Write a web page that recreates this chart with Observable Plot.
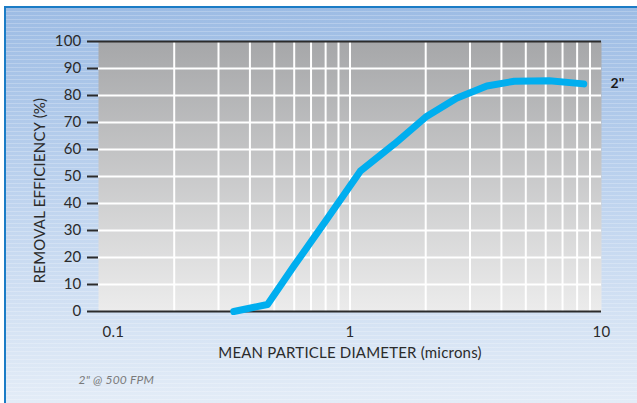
<!DOCTYPE html>
<html><head><meta charset="utf-8">
<script src="https://cdn.jsdelivr.net/npm/d3@7"></script>
<script src="https://cdn.jsdelivr.net/npm/@observablehq/plot@0.6"></script>
<style>
html,body{margin:0;padding:0;background:#fff;}
#wrap{position:relative;width:637px;height:403px;overflow:hidden;}
#bg{position:absolute;left:4px;top:6px;right:0;bottom:0;border-top:2px solid #1b7cc6;border-left:2px solid #1b7cc6;
background: repeating-linear-gradient(to bottom, rgba(255,255,255,0) 0px, rgba(255,255,255,0) 3px, rgba(255,255,255,0.22) 3px, rgba(255,255,255,0.22) 4px), linear-gradient(to bottom,#9dbce4 0%,#bcd2ee 45%,#e3ecf7 100%);}
#chart{position:absolute;left:0;top:0;}
#chart text{letter-spacing:0.2px;}
</style></head>
<body>
<div id="wrap"><div id="bg"></div><div id="chart"></div></div>
<script>
// Data
const diameter   = [0.345, 0.47, 0.6, 0.8, 1.1, 1.5, 2.0, 2.65, 3.5, 4.5, 6.2, 8.5];
const efficiency = [0,     2.6,  17,  33.5, 52, 62,  72,  79,   83.5, 85.3, 85.5, 84.3];
const seriesName = '2"';
const xTicks = [0.1, 1, 10];
const yTicks = [0, 10, 20, 30, 40, 50, 60, 70, 80, 90, 100];
const gridX = [0.2, 0.3, 0.4, 0.5, 0.6, 0.7, 0.8, 0.9, 1, 2, 3, 4, 5, 6, 7, 8, 9];
const gridY = [10, 20, 30, 40, 50, 60, 70, 80, 90];
const xLabel = "MEAN PARTICLE DIAMETER (microns)";
const yLabel = "REMOVAL EFFICIENCY (%)";
const footnote = '2" @ 500 FPM';

const data = diameter.map((d, i) => ({d, e: efficiency[i]}));
const last = data[data.length - 1];

const chart = Plot.plot({
  width: 637, height: 403,
  marginLeft: 98, marginRight: 36, marginTop: 41, marginBottom: 92,
  style: {background: "transparent", fontFamily: "Lato, sans-serif", color: "#2b2b2b", overflow: "visible"},
  x: {type: "log", domain: [0.1, 10], axis: null},
  y: {domain: [0, 100], axis: null},
  marks: [
    Plot.frame({fill: "url(#plotGrad)", stroke: null}),
    Plot.ruleX(gridX, {stroke: "white", strokeWidth: 2}),
    Plot.ruleY(gridY, {stroke: "white", strokeWidth: 2}),
    Plot.axisY({ticks: yTicks, tickSize: 11, tickPadding: 6, fontSize: 15, strokeWidth: 2, label: null, tickFormat: d => String(d)}),
    Plot.ruleY([0, 100], {stroke: "#2b2b2b", strokeWidth: 2}),
    Plot.line(data, {x: "d", y: "e", stroke: "#00aeef", strokeWidth: 7, strokeLinecap: "round", strokeLinejoin: "round"}),
    Plot.text(xTicks.filter(t => t > 0.1), {x: d => d, text: d => String(d), frameAnchor: "bottom", dy: 25, fontSize: 15}),
    Plot.text(xTicks.filter(t => t <= 0.1), {x: d => d, text: d => String(d), frameAnchor: "bottom", dy: 25, dx: 4, textAnchor: "start", fontSize: 15}),
    Plot.text([xLabel], {frameAnchor: "bottom", dy: 46, fontSize: 15}),
    Plot.text([yLabel], {frameAnchor: "left", dx: -58, dy: 14, rotate: -90, textAnchor: "middle", fontSize: 15}),
    Plot.text([seriesName], {y: () => last.e, frameAnchor: "right", dx: 9, textAnchor: "start", fontWeight: "bold", fontSize: 14, fill: "#1a1a1a"}),
    Plot.text([footnote], {frameAnchor: "bottom-left", dx: -20, dy: 72, textAnchor: "start", fontSize: 12, fontStyle: "italic", fill: "#7a7a7a"})
  ]
});

d3.select(chart).insert("defs", ":first-child").html(
  '<linearGradient id="plotGrad" x1="0" y1="0" x2="0" y2="1">' +
  '<stop offset="0%" stop-color="#a6a7a9"/><stop offset="100%" stop-color="#ececec"/></linearGradient>'
);
document.getElementById("chart").appendChild(chart);
</script>
</body></html>
